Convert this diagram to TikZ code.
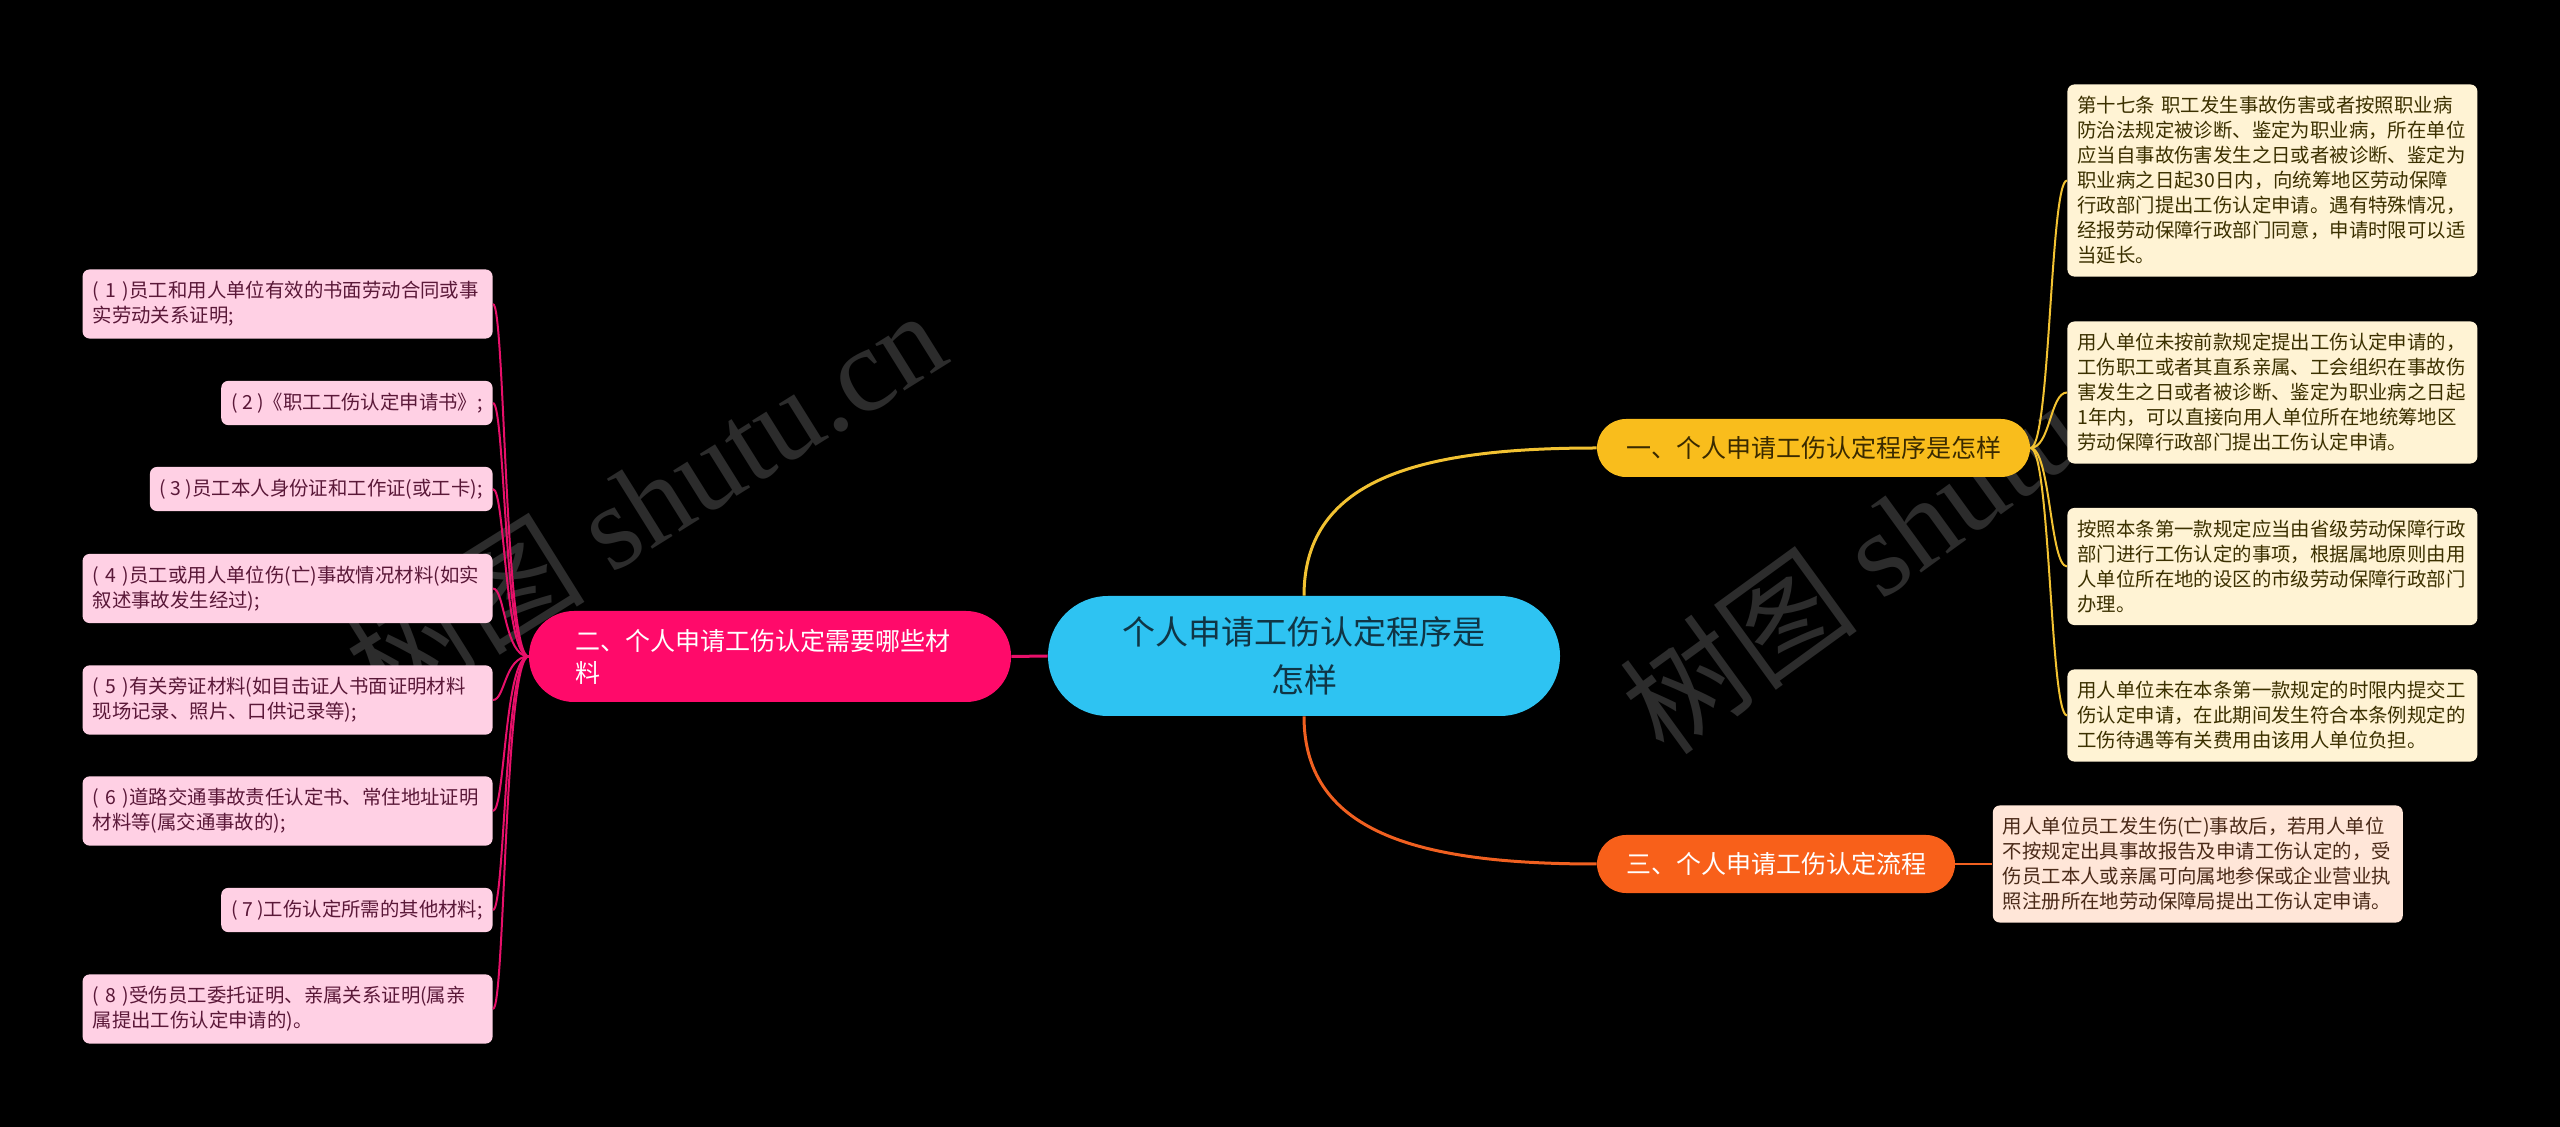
\documentclass[tikz,border=0pt]{standalone}
\usepackage{fontspec}
\setmainfont{Noto Sans CJK SC}
\newfontfamily\markfont{Liberation Serif}
\usepackage{tikz}
\usetikzlibrary{positioning,calc}

\definecolor{rootfill}{HTML}{2EC3F2}
\definecolor{roottext}{HTML}{103545}
\definecolor{procfill}{HTML}{F9BD1C}
\definecolor{proctext}{HTML}{3A2A00}
\definecolor{procline}{HTML}{F2C232}
\definecolor{procnote}{HTML}{FFF3D4}
\definecolor{procnotetext}{HTML}{3B3000}
\definecolor{matfill}{HTML}{FF0A6A}
\definecolor{matline}{HTML}{E8106A}
\definecolor{matnote}{HTML}{FFD0E4}
\definecolor{matnotetext}{HTML}{5A1838}
\definecolor{flowfill}{HTML}{F8601A}
\definecolor{flowline}{HTML}{F06020}
\definecolor{flownote}{HTML}{FFE6D8}
\definecolor{flownotetext}{HTML}{4A2A18}
\definecolor{markgray}{HTML}{2C2C2C}

\begin{document}
\begin{tikzpicture}[
    x=0.5pt, y=-0.5pt,
    leaf/.style={
      rectangle,
      rounded corners=3.5pt,
      inner xsep=5pt,
      inner ysep=6pt,
      align=left,
      font=\fontsize{9.7}{12.5}\selectfont,
    },
    procleaf/.style={leaf, fill=procnote, text=procnotetext, text width=195pt},
    matleaf/.style={leaf, fill=matnote, text=matnotetext},
    matleafwide/.style={matleaf, text width=195pt},
    pill/.style={
      rectangle,
      inner sep=0pt,
      font=\fontsize{12.5}{16}\selectfont,
    },
    watermark/.style={text=markgray, font=\fontsize{60}{60}\selectfont},
  ]
    % background and page size
    \fill[black] (0,0) rectangle (2560,1127);
    \useasboundingbox (0,0) rectangle (2560,1127);

    \node[watermark, rotate=32] (MarkLeft) at (645,500) {树图 {\markfont shutu.cn}};
    \node[watermark, rotate=36] (MarkRight) at (1910,525) {树图 {\markfont shutu.cn}};

    % root
    \node[rectangle, fill=rootfill, text=roottext, rounded corners=30pt,
          minimum width=256pt, minimum height=60pt, align=center,
          font=\fontsize{16.5}{24}\selectfont] (Root) at (1304,656)
      {个人申请工伤认定程序是\\怎样};

    % branches
    \node[pill, fill=procfill, text=proctext, rounded corners=14.5pt,
          minimum width=216.5pt, minimum height=29pt] (Procedure) at (1813.5,448)
      {一、个人申请工伤认定程序是怎样};
    \node[pill, fill=flowfill, text=white, rounded corners=14.5pt,
          minimum width=179pt, minimum height=29pt] (Flow) at (1776,864)
      {三、个人申请工伤认定流程};
    \node[pill, fill=matfill, text=white, rounded corners=22.5pt,
          inner xsep=23pt, text width=195pt, align=left,
          minimum height=45.5pt] (Materials) at (770,656.5)
      {二、个人申请工伤认定需要哪些材\\料};

    % procedure notes
    \node[procleaf, anchor=west] (ProcA) at (2067,180.5)
      {第十七条 职工发生事故伤害或者按照职业病\\
       防治法规定被诊断、鉴定为职业病，所在单位\\
       应当自事故伤害发生之日或者被诊断、鉴定为\\
       职业病之日起30日内，向统筹地区劳动保障\\
       行政部门提出工伤认定申请。遇有特殊情况，\\
       经报劳动保障行政部门同意，申请时限可以适\\
       当延长。};
    \node[procleaf, anchor=west] (ProcB) at (2067,392.5)
      {用人单位未按前款规定提出工伤认定申请的，\\
       工伤职工或者其直系亲属、工会组织在事故伤\\
       害发生之日或者被诊断、鉴定为职业病之日起\\
       1年内，可以直接向用人单位所在地统筹地区\\
       劳动保障行政部门提出工伤认定申请。};
    \node[procleaf, anchor=west] (ProcC) at (2067,566.5)
      {按照本条第一款规定应当由省级劳动保障行政\\
       部门进行工伤认定的事项，根据属地原则由用\\
       人单位所在地的设区的市级劳动保障行政部门\\
       办理。};
    \node[procleaf, anchor=west] (ProcD) at (2067,715.5)
      {用人单位未在本条第一款规定的时限内提交工\\
       伤认定申请，在此期间发生符合本条例规定的\\
       工伤待遇等有关费用由该用人单位负担。};

    % flow note
    \node[leaf, fill=flownote, text=flownotetext, text width=195pt,
          right=18.5pt of Flow] (FlowNote)
      {用人单位员工发生伤(亡)事故后，若用人单位\\
       不按规定出具事故报告及申请工伤认定的，受\\
       伤员工本人或亲属可向属地参保或企业营业执\\
       照注册所在地劳动保障局提出工伤认定申请。};

    % material notes
    \node[matleafwide, anchor=east] (MatA) at (493,304)
      {( 1 )员工和用人单位有效的书面劳动合同或事\\实劳动关系证明;};
    \node[matleaf, anchor=east] (MatB) at (493,403)
      {( 2 )《职工工伤认定申请书》;};
    \node[matleaf, anchor=east] (MatC) at (493,489)
      {( 3 )员工本人身份证和工作证(或工卡);};
    \node[matleafwide, anchor=east] (MatD) at (493,588.5)
      {( 4 )员工或用人单位伤(亡)事故情况材料(如实\\叙述事故发生经过);};
    \node[matleafwide, anchor=east] (MatE) at (493,700)
      {( 5 )有关旁证材料(如目击证人书面证明材料\\现场记录、照片、口供记录等);};
    \node[matleafwide, anchor=east] (MatF) at (493,811)
      {( 6 )道路交通事故责任认定书、常住地址证明\\材料等(属交通事故的);};
    \node[matleaf, anchor=east] (MatG) at (493,910)
      {( 7 )工伤认定所需的其他材料;};
    \node[matleafwide, anchor=east] (MatH) at (493,1009)
      {( 8 )受伤员工委托证明、亲属关系证明(属亲\\属提出工伤认定申请的)。};

    % root --- branches
    \draw[procline, line width=1.5pt] (Root.north) .. controls +(0,-120) and +(-170,0) .. (Procedure.west);
    \draw[flowline, line width=1.5pt] (Root.south) .. controls +(0,120) and +(-170,0) .. (Flow.west);
    \draw[matline, line width=1.5pt] (Root.west) -- (Materials.east);

    % branches --- notes
    \foreach \leafname in {ProcA,ProcB,ProcC,ProcD}
      \draw[procline, line width=1pt] (Procedure.east) .. controls +(20,0) and +(-17,0) .. (\leafname.west);
    \foreach \leafname in {MatA,MatB,MatC,MatD,MatE,MatF,MatG,MatH}
      \draw[matline, line width=1pt] (Materials.west) .. controls +(-24,0) and +(12,0) .. (\leafname.east);
    \draw[flowline, line width=1pt] (Flow.east) -- (FlowNote.west);
  \end{tikzpicture}
\end{document}
